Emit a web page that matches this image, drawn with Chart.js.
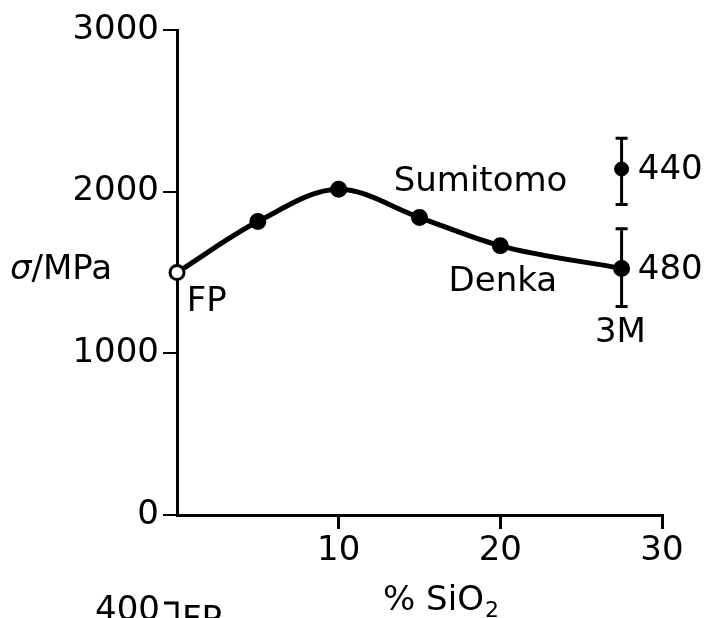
<!DOCTYPE html>
<html>
<head>
<meta charset="utf-8">
<script src="https://cdn.jsdelivr.net/npm/chart.js@4.4.1/dist/chart.umd.min.js"></script>
<style>
  body { margin: 0; background: #fff; }
  #wrap { width: 711px; height: 618px; }
</style>
</head>
<body>
<div id="wrap"><canvas id="chart" width="711" height="618"></canvas></div>
<script>
// --- data ---
const silicaPct = [0, 5, 10, 15, 20, 27.5];
const strengthMPa = [1500, 1815, 2015, 1840, 1665, 1525];

// separate fibres at the right, with scatter bars
const fibrePct = [27.5, 27.5];
const fibreStrength = [2140, 1525];
const fibreLow = [1920, 1290];
const fibreHigh = [2330, 1770];

const xTicks = [10, 20, 30];
const yTicks = [0, 1000, 2000, 3000];

// text notes, anchored in data units (left edge, vertical middle)
const notes = [
    { text: "FP", x: 0.6, y: 1317 },
    { text: "Sumitomo", x: 13.4, y: 2060 },
    { text: "Denka", x: 16.8, y: 1441 },
    { text: "440", x: 28.5, y: 2134 },
    { text: "480", x: 28.5, y: 1515 },
    { text: "3M", x: 25.85, y: 1126 }
];

const FONT = "'DejaVu Sans', sans-serif";
Chart.defaults.font.family = FONT;
Chart.defaults.color = "#000";

// error bars + free text
const extras = {
    id: "extras",
    afterDatasetsDraw(chart) {
        const { ctx, scales: { x, y } } = chart;
        ctx.save();
        ctx.strokeStyle = "#000";
        ctx.lineWidth = 3;
        fibrePct.forEach((p, i) => {
            const px = x.getPixelForValue(p);
            const lo = y.getPixelForValue(fibreLow[i]);
            const hi = y.getPixelForValue(fibreHigh[i]);
            ctx.beginPath();
            ctx.moveTo(px, lo); ctx.lineTo(px, hi);
            ctx.moveTo(px - 6, lo); ctx.lineTo(px + 6, lo);
            ctx.moveTo(px - 6, hi); ctx.lineTo(px + 6, hi);
            ctx.stroke();
        });

        ctx.fillStyle = "#000";
        ctx.font = "34px " + FONT;
        ctx.textBaseline = "middle";
        ctx.textAlign = "left";
        notes.forEach(n => {
            ctx.fillText(n.text, x.getPixelForValue(n.x), y.getPixelForValue(n.y));
        });

        // y title, horizontal, left of the axis
        const ty = y.getPixelForValue(1515);
        ctx.font = "italic 34px " + FONT;
        ctx.fillText("σ", 10, ty);
        const sw = ctx.measureText("σ").width;
        ctx.font = "34px " + FONT;
        ctx.fillText("/MPa", 10 + sw, ty);

        // x title with subscript
        ctx.textBaseline = "alphabetic";
        const base = 610;
        const main = "% SiO";
        const mw = ctx.measureText(main).width;
        const left = 383;
        ctx.fillText(main, left, base);
        ctx.font = "22px " + FONT;
        ctx.fillText("2", left + mw + 1, base + 7);

        // start of the next panel, cut off at the bottom edge
        ctx.font = "34px " + FONT;
        ctx.fillText("400", 95, 620);
        ctx.fillText("FP", 182, 630);
        ctx.beginPath();
        ctx.moveTo(164, 603); ctx.lineTo(177, 603); ctx.lineTo(177, 618);
        ctx.stroke();
        ctx.restore();
    }
};

new Chart(document.getElementById("chart"), {
    type: "scatter",
    data: {
        datasets: [
            {
                label: "curve",
                type: "line",
                data: silicaPct.map((v, i) => ({ x: v, y: strengthMPa[i] })),
                borderColor: "#000",
                borderWidth: 5,
                cubicInterpolationMode: "monotone",
                pointRadius: 7,
                pointBorderWidth: 3,
                pointBorderColor: "#000",
                pointBackgroundColor: silicaPct.map((v, i) => i === 0 ? "#fff" : "#000"),
                clip: false
            },
            {
                label: "fibres",
                data: fibrePct.map((v, i) => ({ x: v, y: fibreStrength[i] })),
                pointRadius: 7,
                pointBackgroundColor: "#000",
                pointBorderColor: "#000",
                clip: false
            }
        ]
    },
    options: {
        responsive: false,
        animation: false,
        layout: { padding: { top: 30, right: 49, left: 0, bottom: 0 } },
        plugins: {
            legend: { display: false },
            tooltip: { enabled: false }
        },
        scales: {
            x: {
                type: "linear",
                min: 0,
                max: 30,
                afterBuildTicks: s => { s.ticks = xTicks.map(v => ({ value: v })); },
                afterFit: s => { s.height = 103; },
                border: { display: true, color: "#000", width: 3 },
                grid: { drawOnChartArea: false, drawTicks: true, tickLength: 14, color: "#000", lineWidth: 3 },
                ticks: { font: { size: 34 }, padding: 2, color: "#000", maxRotation: 0, callback: v => String(v) }
            },
            y: {
                type: "linear",
                min: 0,
                max: 3000,
                afterBuildTicks: s => { s.ticks = yTicks.map(v => ({ value: v })); },
                afterFit: s => { s.width = 177; },
                border: { display: true, color: "#000", width: 3 },
                grid: { drawOnChartArea: false, drawTicks: true, tickLength: 14, color: "#000", lineWidth: 2 },
                ticks: { font: { size: 34 }, padding: 4, color: "#000", callback: v => String(v) }
            }
        }
    },
    plugins: [extras]
});
</script>
</body>
</html>
